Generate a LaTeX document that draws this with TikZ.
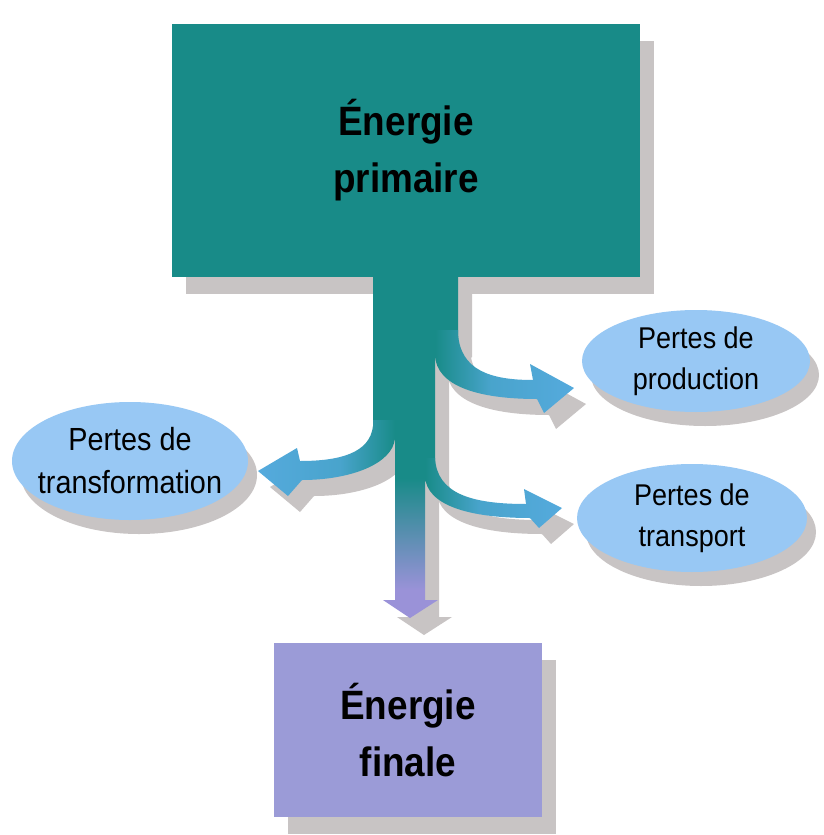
\documentclass[tikz,border=0pt]{standalone}
\usepackage{fontspec}
\setmainfont{Liberation Sans}
\newfontfamily\narrowfont[FakeStretch=0.9]{Liberation Sans}
\usetikzlibrary{shapes.geometric,shadows}

\definecolor{primteal}{HTML}{188B88}
\definecolor{finpurple}{HTML}{9B9BD7}
\definecolor{flowpurple}{HTML}{9A92D8}
\definecolor{lossblue}{HTML}{98C8F4}
\definecolor{flowblue}{HTML}{55AADD}
\definecolor{shadowgrey}{HTML}{C8C4C4}

\pgfdeclareverticalshading{stemshade}{100bp}{color(0bp)=(flowpurple); color(29bp)=(flowpurple); color(45bp)=(primteal); color(100bp)=(primteal)}
\pgfdeclarehorizontalshading{outshade}{100bp}{color(0bp)=(primteal); color(25bp)=(primteal); color(45bp)=(flowblue!80!primteal); color(75bp)=(flowblue); color(100bp)=(flowblue)}
\pgfdeclarehorizontalshading{inshade}{100bp}{color(0bp)=(flowblue); color(25bp)=(flowblue); color(55bp)=(flowblue!80!primteal); color(75bp)=(primteal); color(100bp)=(primteal)}

\newcommand{\stemflow}{(373,268) -- (458,268) -- (458,340) -- (435,358) -- (435,470) -- (425,482) -- (425,600) -- (438,600) -- (410,618) -- (383,600) -- (395,600) -- (395,440) -- (373,428) -- cycle}
\newcommand{\prodflow}{(458,330) -- (458,333) .. controls (460,370) and (490,380) .. (533,380) -- (530,364) -- (574,388) -- (544,413) -- (537,399) .. controls (478,399) and (436,386) .. (435,355) -- (435,330) -- cycle}
\newcommand{\transpflow}{(435,458) .. controls (437,493) and (470,504) .. (526,504) -- (524,489) -- (562,508) -- (539,528) -- (530,518) .. controls (468,518) and (426,505) .. (425,476) -- (425,458) -- cycle}
\newcommand{\transfflow}{(373,420) -- (373,426) .. controls (370,453) and (340,461) .. (300,461) -- (297,448) -- (258,471) -- (288,496) -- (302,480) .. controls (350,480) and (393,464) .. (395,438) -- (395,420) -- cycle}

\tikzset{
	energy/.style={rectangle, inner sep=0pt, align=center, font=\narrowfont\fontsize{41}{57}\selectfont\bfseries, drop shadow={shadow xshift=14pt, shadow yshift=-17pt, fill=shadowgrey, opacity=1}},
	loss/.style={ellipse, fill=lossblue, inner xsep=-25pt, inner ysep=-10pt, align=center, font=\narrowfont\fontsize{30}{41}\selectfont, drop shadow={shadow xshift=9pt, shadow yshift=-14pt, fill=shadowgrey, opacity=1}}
}

\begin{document}
\begin{tikzpicture}[x=1pt,y=-1pt]
	\useasboundingbox (0,0) rectangle (823,835);
	\fill[white] (0,0) rectangle (823,835);

	\node[energy, fill=primteal, minimum width=468pt, minimum height=253pt] (prim) at (406,150) {Énergie\\primaire};

	% shadows of the flows
	\fill[shadowgrey, shift={(14,17)}] \stemflow;
	\fill[shadowgrey, shift={(12,16)}] \prodflow;
	\fill[shadowgrey, shift={(12,16)}] \transpflow;
	\fill[shadowgrey, shift={(12,16)}] \transfflow;

	% flows
	\shade[shading=stemshade] \stemflow;
	\shade[shading=outshade] \prodflow;
	\shade[shading=outshade] \transpflow;
	\shade[shading=inshade] \transfflow;

	\node[energy, fill=finpurple, minimum width=268pt, minimum height=174pt] (fin) at (408,730) {Énergie\\finale};

	\node[loss, minimum width=228pt, minimum height=102pt] (prod) at (696,361) {Pertes de\\production};
	\node[loss, minimum width=230pt, minimum height=108pt] (transp) at (692,518) {Pertes de\\transport};
	\node[loss, minimum width=236pt, minimum height=118pt, font=\narrowfont\fontsize{32}{43}\selectfont] (transf) at (130,461) {Pertes de\\transformation};
\end{tikzpicture}
\end{document}
